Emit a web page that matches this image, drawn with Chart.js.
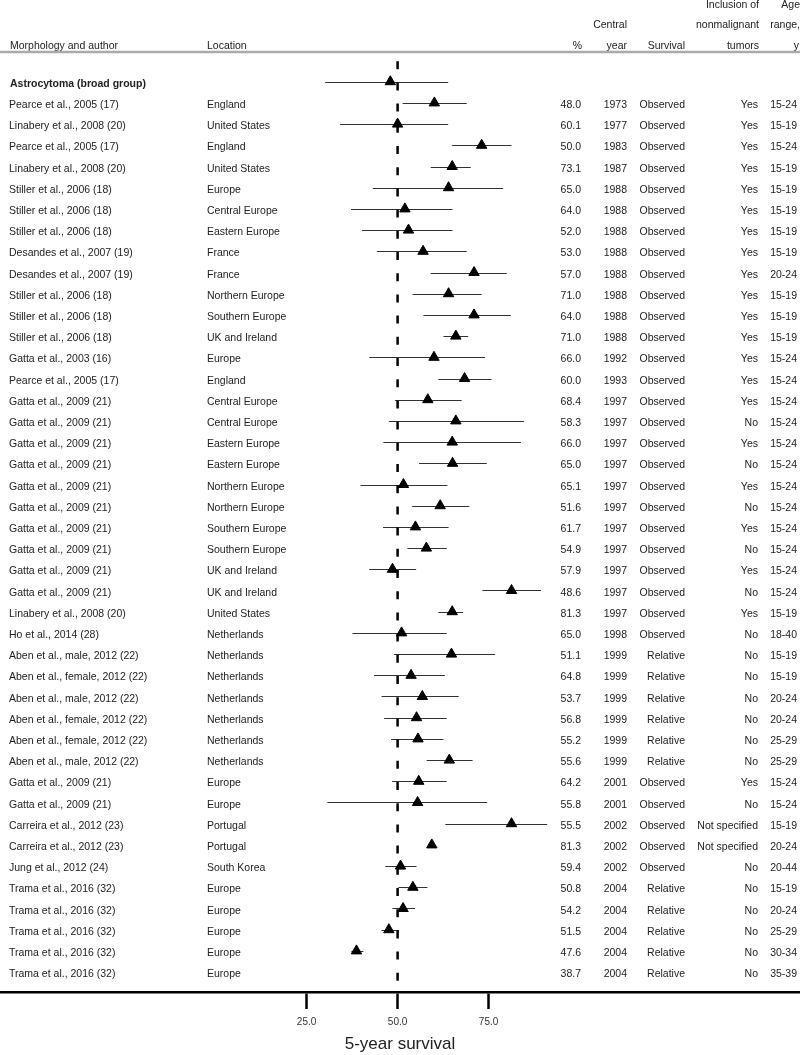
<!DOCTYPE html>
<html>
<head>
<meta charset="utf-8">
<script src="https://cdn.jsdelivr.net/npm/chart.js@4/dist/chart.umd.min.js"></script>
<style>
  html, body { margin: 0; padding: 0; background: #fff; }
  .chartBox { position: relative; width: 800px; height: 1055px; }
</style>
</head>
<body>
<div class="chartBox"><canvas class="jsForestChart"></canvas></div>
<script>
'use strict';

let groupLabel = 'Astrocytoma (broad group)';

let authors = [
  'Pearce et al., 2005 (17)', 'Linabery et al., 2008 (20)', 'Pearce et al., 2005 (17)', 'Linabery et al., 2008 (20)',
  'Stiller et al., 2006 (18)', 'Stiller et al., 2006 (18)', 'Stiller et al., 2006 (18)', 'Desandes et al., 2007 (19)',
  'Desandes et al., 2007 (19)', 'Stiller et al., 2006 (18)', 'Stiller et al., 2006 (18)', 'Stiller et al., 2006 (18)',
  'Gatta et al., 2003 (16)', 'Pearce et al., 2005 (17)', 'Gatta et al., 2009 (21)', 'Gatta et al., 2009 (21)',
  'Gatta et al., 2009 (21)', 'Gatta et al., 2009 (21)', 'Gatta et al., 2009 (21)', 'Gatta et al., 2009 (21)',
  'Gatta et al., 2009 (21)', 'Gatta et al., 2009 (21)', 'Gatta et al., 2009 (21)', 'Gatta et al., 2009 (21)',
  'Linabery et al., 2008 (20)', 'Ho et al., 2014 (28)', 'Aben et al., male, 2012 (22)', 'Aben et al., female, 2012 (22)',
  'Aben et al., male, 2012 (22)', 'Aben et al., female, 2012 (22)', 'Aben et al., female, 2012 (22)', 'Aben et al., male, 2012 (22)',
  'Gatta et al., 2009 (21)', 'Gatta et al., 2009 (21)', 'Carreira et al., 2012 (23)', 'Carreira et al., 2012 (23)',
  'Jung et al., 2012 (24)', 'Trama et al., 2016 (32)', 'Trama et al., 2016 (32)', 'Trama et al., 2016 (32)',
  'Trama et al., 2016 (32)', 'Trama et al., 2016 (32)'
];

let locations = [
  'England', 'United States', 'England', 'United States', 'Europe', 'Central Europe', 'Eastern Europe', 'France',
  'France', 'Northern Europe', 'Southern Europe', 'UK and Ireland', 'Europe', 'England', 'Central Europe', 'Central Europe',
  'Eastern Europe', 'Eastern Europe', 'Northern Europe', 'Northern Europe', 'Southern Europe', 'Southern Europe',
  'UK and Ireland', 'UK and Ireland', 'United States', 'Netherlands', 'Netherlands', 'Netherlands', 'Netherlands',
  'Netherlands', 'Netherlands', 'Netherlands', 'Europe', 'Europe', 'Portugal', 'Portugal', 'South Korea',
  'Europe', 'Europe', 'Europe', 'Europe', 'Europe'
];

let survivalPct = [
  48.0, 60.1, 50.0, 73.1, 65.0, 64.0, 52.0, 53.0, 57.0, 71.0, 64.0, 71.0, 66.0, 60.0,
  68.4, 58.3, 66.0, 65.0, 65.1, 51.6, 61.7, 54.9, 57.9, 48.6, 81.3, 65.0, 51.1, 64.8,
  53.7, 56.8, 55.2, 55.6, 64.2, 55.8, 55.5, 81.3, 59.4, 50.8, 54.2, 51.5, 47.6, 38.7
];

let ciLower = [
  30.1, 51.4, 34.2, 65.0, 59.1, 43.2, 37.2, 40.2, 44.3, 59.1, 54.1, 57.1, 62.6, 42.2,
  61.2, 49.3, 47.6, 46.1, 55.9, 39.8, 54.0, 46.0, 52.7, 42.2, 73.3, 61.2, 37.6, 49.0,
  43.5, 45.6, 46.3, 48.2, 58.0, 48.5, 30.7, 63.1, null, 46.6, 50.2, 48.6, 45.6, 37.3
];

let ciUpper = [
  63.9, 69.0, 63.9, 81.3, 70.1, 79.0, 65.1, 65.1, 69.0, 80.0, 73.1, 81.1, 69.4, 74.0,
  75.8, 67.6, 84.7, 83.9, 74.5, 63.7, 69.7, 64.0, 63.5, 55.1, 89.4, 68.0, 63.5, 76.8,
  63.0, 66.8, 63.5, 62.6, 70.6, 63.5, 74.6, 91.1, null, 55.2, 58.2, 54.8, 50.4, 40.6
];

let centralYears = [
  1973, 1977, 1983, 1987, 1988, 1988, 1988, 1988, 1988, 1988, 1988, 1988, 1992, 1993,
  1997, 1997, 1997, 1997, 1997, 1997, 1997, 1997, 1997, 1997, 1997, 1998, 1999, 1999,
  1999, 1999, 1999, 1999, 2001, 2001, 2002, 2002, 2002, 2004, 2004, 2004, 2004, 2004
];

let survivalTypes = [
  'Observed', 'Observed', 'Observed', 'Observed', 'Observed', 'Observed', 'Observed', 'Observed', 'Observed',
  'Observed', 'Observed', 'Observed', 'Observed', 'Observed', 'Observed', 'Observed', 'Observed', 'Observed',
  'Observed', 'Observed', 'Observed', 'Observed', 'Observed', 'Observed', 'Observed', 'Observed',
  'Relative', 'Relative', 'Relative', 'Relative', 'Relative', 'Relative',
  'Observed', 'Observed', 'Observed', 'Observed', 'Observed',
  'Relative', 'Relative', 'Relative', 'Relative', 'Relative'
];

let nonmalignant = [
  'Yes', 'Yes', 'Yes', 'Yes', 'Yes', 'Yes', 'Yes', 'Yes', 'Yes', 'Yes', 'Yes', 'Yes', 'Yes', 'Yes',
  'Yes', 'No', 'Yes', 'No', 'Yes', 'No', 'Yes', 'No', 'Yes', 'No', 'Yes', 'No', 'No', 'No',
  'No', 'No', 'No', 'No', 'Yes', 'No', 'Not specified', 'Not specified', 'No', 'No', 'No', 'No', 'No', 'No'
];

let ageRanges = [
  '15-24', '15-19', '15-24', '15-19', '15-19', '15-19', '15-19', '15-19', '20-24', '15-19', '15-19', '15-19',
  '15-24', '15-24', '15-24', '15-24', '15-24', '15-24', '15-24', '15-24', '15-24', '15-24', '15-24', '15-24',
  '15-19', '18-40', '15-19', '15-19', '20-24', '20-24', '25-29', '25-29', '15-24', '15-24', '15-19', '20-24',
  '20-44', '15-19', '20-24', '25-29', '30-34', '35-39'
];

let xTicks = [25, 50, 75];
let refValue = 50;

const FONT = '"Liberation Sans", Arial, sans-serif';
const TEXT_COLOR = '#222';

function _text(ctx, str, x, y, align, bold) {
  ctx.font = (bold ? 'bold ' : '') + '10.5px ' + FONT;
  ctx.textAlign = align;
  ctx.fillText(str, x, y);
}

let forestTable = {
  id: 'forestTable',
  beforeDatasetsDraw(chart) {
    let ctx = chart.ctx,
      x = chart.scales.x,
      y = chart.scales.y,
      area = chart.chartArea;

    ctx.save();
    // confidence intervals
    ctx.strokeStyle = '#333';
    ctx.lineWidth = 1;
    survivalPct.forEach((v, i) => {
      if (ciLower[i] === null) return;
      let py = Math.round(y.getPixelForValue(i)) + 0.5;
      ctx.beginPath();
      ctx.moveTo(x.getPixelForValue(ciLower[i]), py);
      ctx.lineTo(x.getPixelForValue(ciUpper[i]), py);
      ctx.stroke();
    });

    // reference line at 50
    let rx = x.getPixelForValue(refValue);
    ctx.strokeStyle = '#000';
    ctx.lineWidth = 2.5;
    ctx.setLineDash([8, 13.2]);
    ctx.lineDashOffset = 14;
    ctx.beginPath();
    ctx.moveTo(rx, area.top);
    ctx.lineTo(rx, area.bottom);
    ctx.stroke();
    ctx.restore();
  },
  afterDraw(chart) {
    let ctx = chart.ctx,
      y = chart.scales.y;

    ctx.save();
    ctx.fillStyle = TEXT_COLOR;
    ctx.textBaseline = 'middle';

    // column headers
    _text(ctx, 'Inclusion of', 759, 5, 'right');
    _text(ctx, 'Age', 800, 5, 'right');
    _text(ctx, 'Central', 627, 25.5, 'right');
    _text(ctx, 'nonmalignant', 759, 25.5, 'right');
    _text(ctx, 'range,', 800, 25.5, 'right');
    _text(ctx, 'Morphology and author', 10, 46.5, 'left');
    _text(ctx, 'Location', 207, 46.5, 'left');
    _text(ctx, '%', 582, 46.5, 'right');
    _text(ctx, 'year', 627, 46.5, 'right');
    _text(ctx, 'Survival', 685, 46.5, 'right');
    _text(ctx, 'tumors', 759, 46.5, 'right');
    _text(ctx, 'y', 799, 46.5, 'right');

    ctx.strokeStyle = '#aaa';
    ctx.lineWidth = 2.5;
    ctx.beginPath();
    ctx.moveTo(0, 52);
    ctx.lineTo(800, 52);
    ctx.stroke();

    _text(ctx, groupLabel, 10, y.getPixelForValue(0) + 2.3, 'left', true);

    authors.forEach((a, i) => {
      let py = y.getPixelForValue(i + 1) + 2.3;
      _text(ctx, a, 9, py, 'left');
      _text(ctx, locations[i], 207, py, 'left');
      _text(ctx, survivalPct[i].toFixed(1), 581, py, 'right');
      _text(ctx, String(centralYears[i]), 627, py, 'right');
      _text(ctx, survivalTypes[i], 685, py, 'right');
      _text(ctx, nonmalignant[i], 758, py, 'right');
      _text(ctx, ageRanges[i], 797, py, 'right');
    });
    ctx.restore();
  }
};

function _buildForestChart() {
  let ctx = document.querySelector('.jsForestChart'),
    points = survivalPct.map((v, i) => ({x: v, y: i}));

  new Chart(ctx, {
    type: 'scatter',
    data: {
      datasets: [{
        data: points,
        pointStyle: 'triangle',
        pointRadius: 6,
        backgroundColor: '#000',
        borderColor: '#000',
        borderWidth: 1,
      }]
    },
    options: {
      responsive: true,
      maintainAspectRatio: false,
      animation: false,
      layout: {autoPadding: false, padding: {top: 54, left: 0, right: 0, bottom: 0}},
      plugins: {
        legend: {display: false},
        tooltip: {enabled: false},
      },
      scales: {
        x: {
          type: 'linear',
          position: 'bottom',
          min: -59.23,
          max: 160.55,
          afterBuildTicks: s => { s.ticks = xTicks.map(v => ({value: v})); },
          afterFit: s => { s.height = 63; },
          grid: {drawOnChartArea: false, drawTicks: true, tickLength: 17, tickWidth: 2.5, tickColor: '#000'},
          border: {display: true, color: '#000', width: 2.5},
          ticks: {
            padding: 7.5,
            color: '#333',
            font: {family: FONT, size: 10},
            callback: v => Number(v).toFixed(1),
          },
          title: {
            display: true,
            text: '5-year survival',
            color: '#222',
            font: {family: FONT, size: 17},
            padding: {top: 0, bottom: 0},
          }
        },
        y: {
          type: 'linear',
          display: false,
          reverse: true,
          min: -1.307,
          max: 42.939,
        }
      }
    },
    plugins: [forestTable]
  });
}

_buildForestChart();
</script>
</body>
</html>
